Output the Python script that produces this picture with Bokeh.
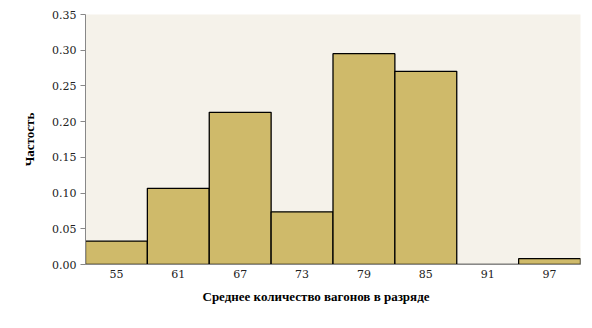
from bokeh.plotting import figure
from bokeh.models import ColumnDataSource, Range1d, FixedTicker, PrintfTickFormatter, Title
from bokeh.embed import file_html
from bokeh.resources import INLINE

categories = ["55", "61", "67", "73", "79", "85", "91", "97"]
frequencies = [0.0328, 0.1066, 0.2131, 0.0738, 0.2951, 0.2705, 0.0, 0.0082]
y_ticks = [0.0, 0.05, 0.10, 0.15, 0.20, 0.25, 0.30, 0.35]
x_title = "Среднее количество вагонов в разряде"
y_title = "Частость"

source = ColumnDataSource(dict(cat=categories, freq=frequencies))

p = figure(width=592, height=328, x_range=categories, y_range=Range1d(0, 0.35),
           output_backend="svg", toolbar_location=None,
           min_border_left=85, min_border_right=12, min_border_top=14, min_border_bottom=64)
p.background_fill_color = "#f5f2ea"
p.border_fill_color = "white"
p.outline_line_color = None
p.xgrid.grid_line_color = None
p.ygrid.grid_line_color = None
p.x_range.range_padding = 0

p.vbar(x="cat", top="freq", width=1.0, source=source,
       fill_color="#cfba6a", line_color="black", line_width=1.3)

font = "DejaVu Serif"
for ax in (p.xaxis[0], p.yaxis[0]):
    ax.axis_line_color = "#888888"
    ax.major_label_text_font = font
    ax.major_label_text_font_size = "11px"
    ax.major_label_text_color = "#222222"
    ax.axis_label_text_font = "Liberation Serif"
    ax.axis_label_text_font_size = "13px"
    ax.axis_label_text_font_style = "bold"
    ax.axis_label_text_color = "black"
    ax.minor_tick_line_color = None

p.xaxis.major_tick_line_color = None
p.xaxis.major_tick_out = 0
p.xaxis.major_tick_in = 0
p.xaxis.major_label_standoff = 5

p.add_layout(Title(text=x_title, align="left", offset=117, standoff=12,
                   text_font="Liberation Serif", text_font_size="13px",
                   text_font_style="bold", text_color="black"), "below")

p.yaxis.axis_label = y_title
p.yaxis.ticker = FixedTicker(ticks=y_ticks)
p.yaxis.formatter = PrintfTickFormatter(format="%.2f")
p.yaxis.major_tick_line_color = "#888888"
p.yaxis.major_tick_out = 5
p.yaxis.major_tick_in = 0
p.yaxis.major_label_standoff = 4
p.yaxis.axis_label_standoff = 12

open("out.html", "w").write(file_html(p, INLINE))
